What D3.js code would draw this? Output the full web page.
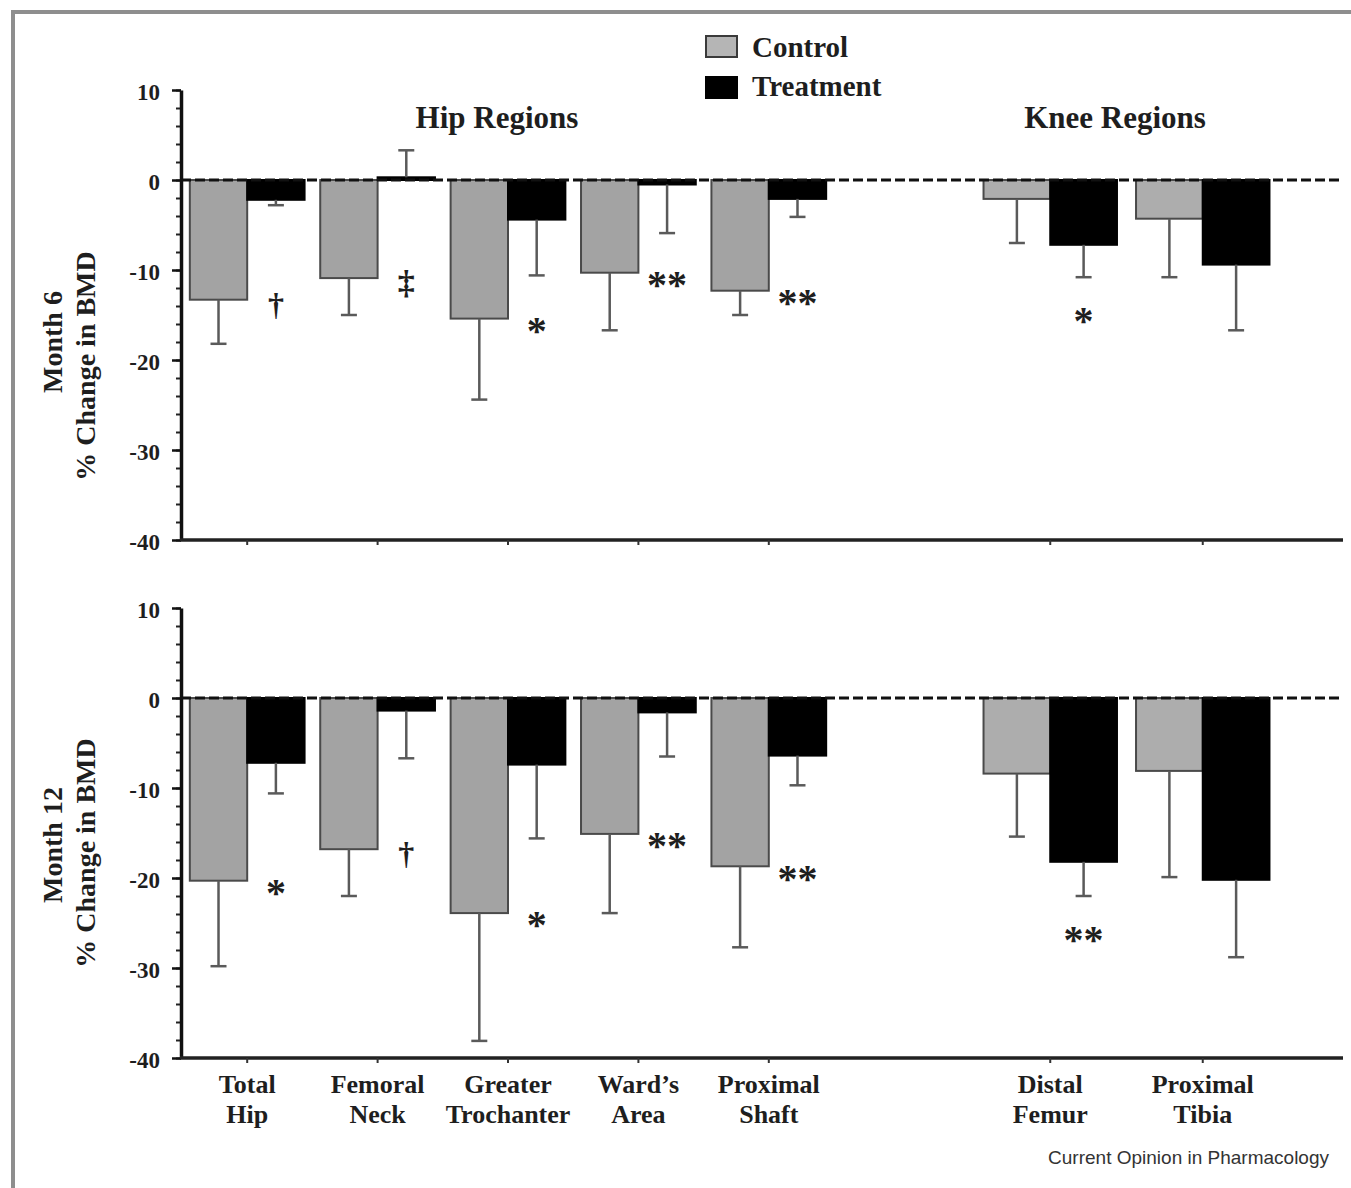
<!DOCTYPE html>
<html>
<head>
<meta charset="utf-8">
<script src="https://cdn.jsdelivr.net/npm/d3@7"></script>
<style>
  body { margin: 0; background: #fff; }
  svg text { font-family: "Liberation Serif", "Times New Roman", serif; font-weight: bold; fill: #1e1e1e; }
</style>
</head>
<body>
<div id="chart"></div>
<script>
// region names and their two-line tick labels
var hipRegions = ["Total Hip", "Femoral Neck", "Greater Trochanter", "Ward’s Area", "Proximal Shaft"];
var kneeRegions = ["Distal Femur", "Proximal Tibia"];
var tickLines = [["Total", "Hip"], ["Femoral", "Neck"], ["Greater", "Trochanter"], ["Ward’s", "Area"],
  ["Proximal", "Shaft"], ["Distal", "Femur"], ["Proximal", "Tibia"]];
var seriesNames = ["Control", "Treatment"];
var yTicks = [10, 0, -10, -20, -30, -40];

// Month 6, % change in BMD (mean and error bar length)
var control6 = [-13.3, -10.9, -15.4, -10.3, -12.3, -2.1, -4.3];
var control6Err = [4.9, 4.1, 9.0, 6.4, 2.7, 4.9, 6.5];
var treat6 = [-2.2, 0.3, -4.4, -0.5, -2.1, -7.2, -9.4];
var treat6Err = [0.6, 3.0, 6.2, 5.4, 2.0, 3.6, 7.3];
var sig6 = ["†", "‡", "*", "**", "**", "*", ""];

// Month 12
var control12 = [-20.3, -16.8, -23.9, -15.1, -18.7, -8.4, -8.1];
var control12Err = [9.5, 5.2, 14.2, 8.8, 9.0, 7.0, 11.8];
var treat12 = [-7.2, -1.4, -7.4, -1.6, -6.4, -18.2, -20.2];
var treat12Err = [3.4, 5.3, 8.2, 4.9, 3.3, 3.8, 8.6];
var sig12 = ["*", "†", "*", "**", "**", "**", ""];

var svgWidth = 1351;
var svgHeight = 1188;
var xLeft = 181;
var xRight = 1343;

var svg = d3.select("#chart")
  .append("svg")
  .attr("width", svgWidth)
  .attr("height", svgHeight);

// gray frame of the figure (top and left edges only are visible)
svg.append("path")
  .attr("d", "M13,1188 V12 H1351")
  .attr("fill", "none")
  .attr("stroke", "#8e8e8e")
  .attr("stroke-width", 4);

var allRegions = hipRegions.concat(kneeRegions);

// two band scales: hip group and knee group are spaced differently
var xHip = d3.scaleBand()
  .domain(hipRegions)
  .range([182, 834])
  .paddingInner(0.12)
  .paddingOuter(0.06);

var xKnee = d3.scaleBand()
  .domain(kneeRegions)
  .range([974, 1279])
  .paddingInner(0.125)
  .paddingOuter(0.0625);

function bandScale(region) {
  return hipRegions.indexOf(region) >= 0 ? xHip : xKnee;
}

function drawPanel(p) {
  var y = d3.scaleLinear().domain([-40, 10]).range([p.bottom, p.top]);
  var g = svg.append("g");

  var rows = allRegions.map(function(r, i) {
    return {
      region: r,
      vals: [
        {name: "Control", v: p.control[i], e: p.controlErr[i]},
        {name: "Treatment", v: p.treat[i], e: p.treatErr[i]}
      ],
      sig: p.sig[i],
      knee: kneeRegions.indexOf(r) >= 0
    };
  });

  // minor ticks on y axis
  g.append("g")
    .attr("transform", `translate(${xLeft},0)`)
    .call(d3.axisLeft(y).tickValues(d3.range(-40, 11, 2)).tickSize(5).tickSizeOuter(0).tickFormat(""))
    .call(function(a) {
      a.select(".domain").remove();
      a.selectAll(".tick line").attr("stroke", "#222").attr("stroke-width", 2);
    });

  // major ticks + labels
  var yAxis = g.append("g")
    .attr("transform", `translate(${xLeft},0)`)
    .call(d3.axisLeft(y).tickValues(yTicks).tickSize(9).tickSizeOuter(0).tickPadding(12)
      .tickFormat(function(d) { return d < 0 ? "-" + Math.abs(d) : d; }));
  yAxis.select(".domain").attr("stroke", "#111").attr("stroke-width", 3.5);
  yAxis.selectAll(".tick line").attr("stroke", "#111").attr("stroke-width", 2.5);
  yAxis.selectAll(".tick text")
    .attr("font-family", null)
    .attr("font-size", 23)
    .attr("dy", "0.42em")
    .attr("fill", "#1e1e1e");

  // bars
  rows.forEach(function(row) {
    var xb = bandScale(row.region);
    var x1 = d3.scaleBand().domain(seriesNames).range([0, xb.bandwidth()]);
    var x0 = xb(row.region);

    row.vals.forEach(function(d) {
      var bx = x0 + x1(d.name);
      var bw = x1.bandwidth();
      var top = y(Math.max(0, d.v));
      var h = Math.abs(y(d.v) - y(0));
      g.append("rect")
        .attr("x", bx)
        .attr("y", top)
        .attr("width", bw)
        .attr("height", Math.max(h, 2))
        .attr("fill", d.name === "Control" ? (row.knee ? "#adadad" : "#a3a3a3") : "#000")
        .attr("stroke", d.name === "Control" ? "#4a4a4a" : "#000")
        .attr("stroke-width", 2);

      // error bar going away from zero
      var end = d.v >= 0 ? d.v + d.e : d.v - d.e;
      var cx = bx + bw / 2;
      g.append("line")
        .attr("x1", cx).attr("x2", cx)
        .attr("y1", y(d.v)).attr("y2", y(end))
        .attr("stroke", "#5a5a5a")
        .attr("stroke-width", 2.5);
      g.append("line")
        .attr("x1", cx - 8).attr("x2", cx + 8)
        .attr("y1", y(end)).attr("y2", y(end))
        .attr("stroke", "#5a5a5a")
        .attr("stroke-width", 2.5);
    });

    // significance markers under the treatment bar
    if (row.sig) {
      var t = row.vals[1];
      var lowest = Math.min(row.vals[0].v, t.v - t.e);
      var cy = y(lowest) + (row.knee ? 38 : 6);
      var isStar = row.sig.indexOf("*") >= 0;
      var fs = isStar ? 40 : (row.sig === "‡" ? 34 : 32);
      g.append("text")
        .attr("x", x0 + x1("Treatment") + x1.bandwidth() / 2)
        .attr("y", cy + fs * (isStar ? 0.48 : 0.28))
        .attr("text-anchor", "middle")
        .attr("font-size", fs)
        .text(row.sig);
    }
  });

  // dashed zero line on top of the bars
  g.append("line")
    .attr("x1", xLeft).attr("x2", xRight)
    .attr("y1", y(0)).attr("y2", y(0))
    .attr("stroke", "#111")
    .attr("stroke-width", 3)
    .attr("stroke-dasharray", "10,4");

  // x axis line and small ticks at each region
  g.append("line")
    .attr("x1", xLeft - 1).attr("x2", xRight)
    .attr("y1", p.bottom).attr("y2", p.bottom)
    .attr("stroke", "#222")
    .attr("stroke-width", 3.5);

  [xHip, xKnee].forEach(function(xb) {
    var xa = g.append("g")
      .attr("transform", `translate(0,${p.bottom})`)
      .call(d3.axisBottom(xb).tickSize(5).tickSizeOuter(0).tickFormat(""));
    xa.select(".domain").remove();
    xa.selectAll(".tick line").attr("stroke", "#333").attr("stroke-width", 2);
  });

  if (p.labels) {
    allRegions.forEach(function(r, i) {
      var xb = bandScale(r);
      var t = g.append("text")
        .attr("text-anchor", "middle")
        .attr("font-size", 26);
      tickLines[i].forEach(function(line, k) {
        t.append("tspan")
          .attr("x", xb(r) + xb.bandwidth() / 2)
          .attr("y", p.bottom + 35 + k * 30)
          .text(line);
      });
    });
  }

  // rotated y titles
  g.append("text")
    .attr("transform", `translate(62,${p.monthY}) rotate(-90)`)
    .attr("text-anchor", "middle")
    .attr("font-size", 28)
    .text(p.month);
  g.append("text")
    .attr("transform", `translate(95,${p.titleY}) rotate(-90)`)
    .attr("text-anchor", "middle")
    .attr("font-size", 28)
    .text("% Change in BMD");
}

drawPanel({
  top: 90, bottom: 540,
  control: control6, controlErr: control6Err,
  treat: treat6, treatErr: treat6Err,
  sig: sig6, labels: false,
  month: "Month 6", monthY: 342, titleY: 366
});

drawPanel({
  top: 608, bottom: 1058,
  control: control12, controlErr: control12Err,
  treat: treat12, treatErr: treat12Err,
  sig: sig12, labels: true,
  month: "Month 12", monthY: 845, titleY: 853
});

// group titles
svg.append("text")
  .attr("x", 497).attr("y", 128)
  .attr("text-anchor", "middle")
  .attr("font-size", 31)
  .text("Hip Regions");

svg.append("text")
  .attr("x", 1115).attr("y", 128)
  .attr("text-anchor", "middle")
  .attr("font-size", 31)
  .text("Knee Regions");

// legend
var legend = svg.append("g").attr("transform", "translate(706,36)");
seriesNames.forEach(function(name, i) {
  legend.append("rect")
    .attr("x", 0)
    .attr("y", i * 41)
    .attr("width", 31)
    .attr("height", 21)
    .attr("fill", i === 0 ? "#b5b5b5" : "#000")
    .attr("stroke", i === 0 ? "#3a3a3a" : "#000")
    .attr("stroke-width", 2);
  legend.append("text")
    .attr("x", 46)
    .attr("y", i * 39 + 21)
    .attr("font-size", 29)
    .text(name);
});

// source credit
svg.append("text")
  .attr("x", 1329)
  .attr("y", 1164)
  .attr("text-anchor", "end")
  .style("font-family", "'Liberation Sans', Arial, sans-serif")
  .style("font-weight", "normal")
  .style("fill", "#333")
  .attr("font-size", 19)
  .text("Current Opinion in Pharmacology");
</script>
</body>
</html>
